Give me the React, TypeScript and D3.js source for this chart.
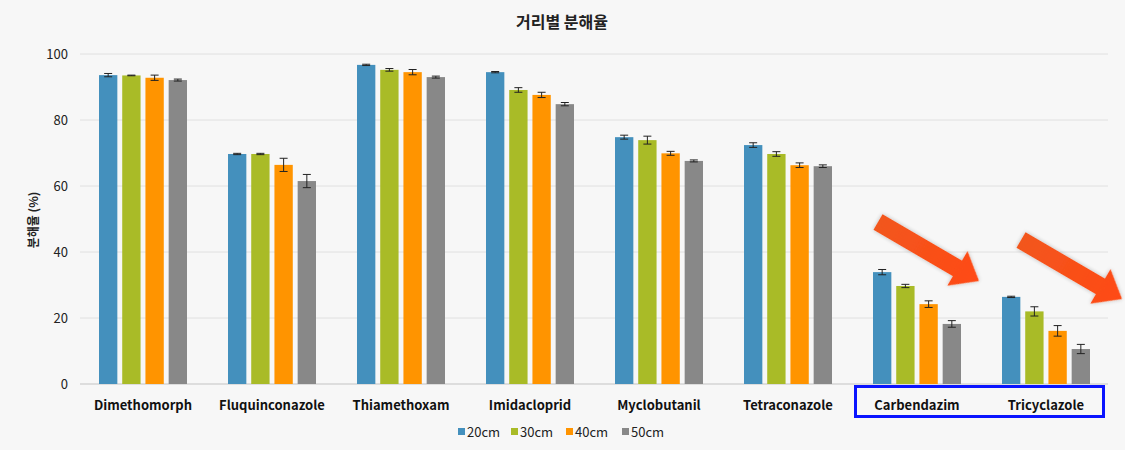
import React from "react";
import * as d3 from "d3";

const categories = ["Dimethomorph", "Fluquinconazole", "Thiamethoxam", "Imidacloprid", "Myclobutanil", "Tetraconazole", "Carbendazim", "Tricyclazole"];
const seriesNames = ["20cm", "30cm", "40cm", "50cm"];
const values20 = [93.6, 69.7, 96.7, 94.5, 74.8, 72.4, 33.9, 26.4];
const values30 = [93.5, 69.7, 95.2, 89.1, 73.9, 69.7, 29.7, 22.0];
const values40 = [92.8, 66.4, 94.5, 87.6, 69.9, 66.3, 24.2, 16.1];
const values50 = [92.1, 61.5, 93.0, 84.8, 67.6, 66.0, 18.2, 10.6];
const err20 = [0.5, 0.2, 0.2, 0.2, 0.6, 0.7, 0.8, 0.2];
const err30 = [0.1, 0.2, 0.4, 0.7, 1.2, 0.7, 0.5, 1.4];
const err40 = [0.8, 2.0, 0.8, 0.8, 0.6, 0.7, 1.0, 1.6];
const err50 = [0.3, 2.0, 0.3, 0.5, 0.3, 0.4, 1.0, 1.4];
const yTicks = [0, 20, 40, 60, 80, 100];
const colors = ["#4490bd", "#a9bb27", "#ff9400", "#888888"];
const highlighted = ["Carbendazim", "Tricyclazole"];

const seriesValues = [values20, values30, values40, values50];
const seriesErrors = [err20, err30, err40, err50];

const W = 1125;
const H = 450;
const FONT = "'Noto Sans CJK KR', 'Noto Sans', sans-serif";

export default function App() {
  const x = d3.scaleBand<string>().domain(categories).range([78.5, 1110.5]).padding(0);
  const xs = d3.scaleBand<string>().domain(seriesNames).range([20.5, 108.5]).paddingInner(0.21);
  const y = d3.scaleLinear().domain([0, 100]).range([384, 54]);

  const arrowPath = (len: number) => {
    const sw = 9; // half shaft width
    const hw = 20; // half head width
    const hl = 25; // head length
    return `M0,${-sw} L${len - hl},${-sw} L${len - hl},${-hw} L${len},0 L${len - hl},${hw} L${len - hl},${sw} L0,${sw} Z`;
  };
  const arrows = [
    { x: 878, y: 222, tx: 979, ty: 281 },
    { x: 1021, y: 240, tx: 1122, ty: 299 },
  ];

  const hlStart = (x(highlighted[0]) as number) + 3;
  const hlEnd = (x(highlighted[1]) as number) + x.bandwidth() - 7;

  return (
    <svg width={W} height={H} style={{ position: "absolute", left: 0, top: 0, background: "#f7f7f7" }} fontFamily={FONT}>
      <defs>
        <linearGradient id="arrowGrad" x1="0" y1="0" x2="1" y2="0">
          <stop offset="0%" stopColor="#f2561f" />
          <stop offset="100%" stopColor="#ff4a12" />
        </linearGradient>
        <filter id="glow" x="-20%" y="-40%" width="140%" height="180%">
          <feGaussianBlur in="SourceAlpha" stdDeviation="2" />
          <feComponentTransfer><feFuncA type="linear" slope="0.25" /></feComponentTransfer>
          <feMerge><feMergeNode /><feMergeNode in="SourceGraphic" /></feMerge>
        </filter>
      </defs>
      <rect x={0} y={0} width={W} height={H} fill="#f7f7f7" />
      <text x={562} y={28} textAnchor="middle" fontSize={16} fontWeight="bold" fill="#222">거리별 분해율</text>

      {yTicks.map((t) => (
        <g key={t}>
          <line x1={80} x2={1108} y1={y(t)} y2={y(t)} stroke={t === 0 ? "#d4d4d4" : "#e0e0e0"} strokeWidth={t === 0 ? 1.5 : 1} />
          <text x={68} y={y(t)} dy="0.35em" textAnchor="end" fontSize={13} fill="#222">{t}</text>
        </g>
      ))}

      <text transform="translate(34,220) rotate(-90)" textAnchor="middle" fontSize={12} fontWeight="bold" fill="#222" dy="0.35em">분해율 (%)</text>

      {categories.map((c, i) => (
        <g key={c} transform={`translate(${x(c)},0)`}>
          {seriesNames.map((s, j) => {
            const v = seriesValues[j][i];
            const e = seriesErrors[j][i];
            const bx = xs(s) as number;
            const bw = xs.bandwidth();
            const cx = bx + bw / 2;
            return (
              <g key={s}>
                <rect x={bx} y={y(v)} width={bw} height={y(0) - y(v)} fill={colors[j]} />
                <line x1={cx} x2={cx} y1={y(v + e)} y2={y(v - e)} stroke="#222" strokeWidth={1} />
                <line x1={cx - 4} x2={cx + 4} y1={y(v + e)} y2={y(v + e)} stroke="#222" strokeWidth={1} />
                <line x1={cx - 4} x2={cx + 4} y1={y(v - e)} y2={y(v - e)} stroke="#222" strokeWidth={1} />
              </g>
            );
          })}
          <text x={x.bandwidth() / 2} y={405} dy="0.35em" textAnchor="middle" fontSize={13} fontWeight="bold" fill="#111">{c}</text>
        </g>
      ))}

      <rect x={hlStart} y={386.5} width={hlEnd - hlStart} height={30} fill="none" stroke="#0a14ff" strokeWidth={3} />

      {arrows.map((a, i) => {
        const dx = a.tx - a.x;
        const dy = a.ty - a.y;
        const len = Math.sqrt(dx * dx + dy * dy);
        const ang = (Math.atan2(dy, dx) * 180) / Math.PI;
        return (
          <path key={i} d={arrowPath(len)} transform={`translate(${a.x},${a.y}) rotate(${ang})`} fill="url(#arrowGrad)" filter="url(#glow)" />
        );
      })}

      {seriesNames.map((s, j) => {
        const lx = [458, 511, 566, 622][j];
        return (
          <g key={s}>
            <rect x={lx} y={428} width={7} height={7} fill={colors[j]} />
            <text x={lx + 9} y={433} dy="0.3em" fontSize={13} fill="#222">{s}</text>
          </g>
        );
      })}
    </svg>
  );
}
